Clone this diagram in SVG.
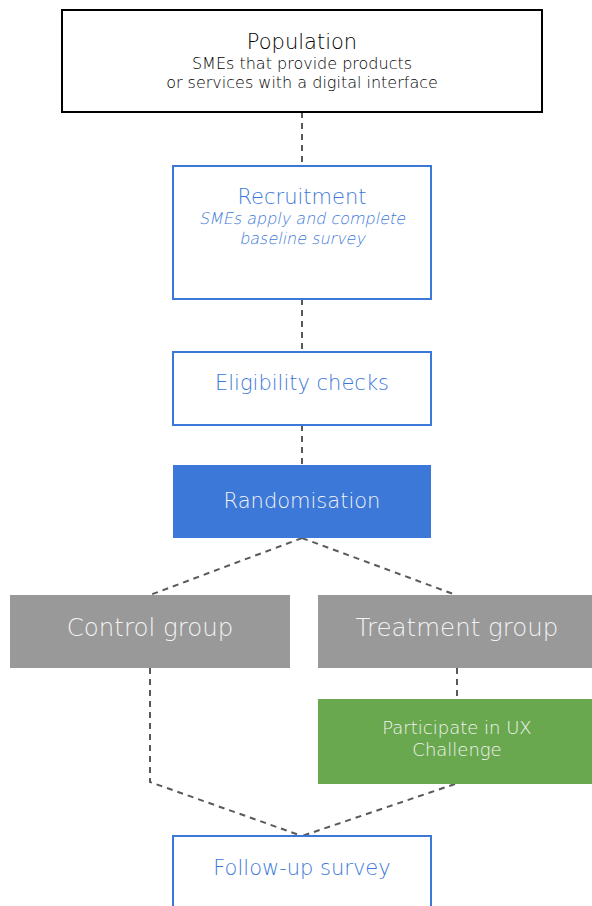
<svg xmlns="http://www.w3.org/2000/svg" width="592" height="906" viewBox="0 0 592 906">
<style>
text{font-family:"DejaVu Sans","Liberation Sans",sans-serif;font-weight:200;text-anchor:middle}
.conn{fill:none;stroke:#595959;stroke-width:2;stroke-dasharray:6,5}
.bl{fill:#fff;stroke:#3c78d8;stroke-width:2}
.bt{fill:#3c78d8}
.wt{fill:#f3f3f3}
</style>
<rect width="592" height="906" fill="#fff"/>
<g id="connectors">
<path class="conn" d="M302 112V166"/>
<path class="conn" d="M302 299V352"/>
<path class="conn" d="M302 425V465"/>
<path class="conn" d="M302 538L150 595"/>
<path class="conn" d="M302 538L456 595"/>
<path class="conn" d="M150 668V782L302 836"/>
<path class="conn" d="M457 668V699"/>
<path class="conn" d="M455 784L302 836"/>
</g>
<g id="population">
<rect x="62" y="10" width="480" height="102" fill="#fff" stroke="#000" stroke-width="2"/>
<text x="302" y="49" font-size="21" fill="#000">Population</text>
<text x="302" y="69" font-size="16" fill="#000">SMEs that provide products</text>
<text x="302" y="88" font-size="16" fill="#000">or services with a digital interface</text>
</g>
<g id="recruitment">
<rect class="bl" x="173" y="166" width="258" height="133"/>
<text class="bt" x="302" y="204" font-size="21">Recruitment</text>
<text class="bt" transform="translate(302 224) skewX(-12)" font-size="16">SMEs apply and complete</text>
<text class="bt" transform="translate(302 244) skewX(-12)" font-size="16">baseline survey</text>
</g>
<g id="eligibility">
<rect class="bl" x="173" y="352" width="258" height="73"/>
<text class="bt" x="302" y="390" font-size="21">Eligibility checks</text>
</g>
<g id="randomisation">
<rect x="173" y="465" width="258" height="73" fill="#3c78d8"/>
<text class="wt" x="302" y="508" font-size="21">Randomisation</text>
</g>
<g id="control">
<rect x="10" y="595" width="280" height="73" fill="#999"/>
<text class="wt" x="150" y="636" font-size="24.5">Control group</text>
</g>
<g id="treatment">
<rect x="318" y="595" width="274" height="73" fill="#999"/>
<text class="wt" x="457" y="636" font-size="24.5">Treatment group</text>
</g>
<g id="participate">
<rect x="318" y="699" width="274" height="85" fill="#6aa84f"/>
<text class="wt" x="457" y="734" font-size="18">Participate in UX</text>
<text class="wt" x="457" y="756" font-size="18">Challenge</text>
</g>
<g id="followup">
<rect class="bl" x="173" y="836" width="258" height="80"/>
<text class="bt" x="302" y="875" font-size="21">Follow-up survey</text>
</g>
</svg>
